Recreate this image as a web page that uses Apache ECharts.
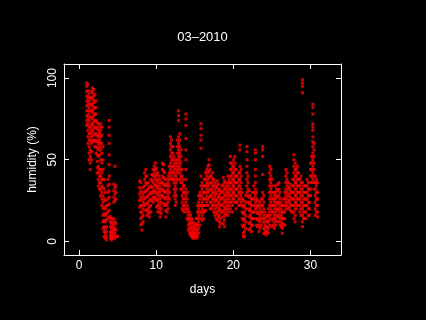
<!DOCTYPE html>
<html>
<head>
<meta charset="utf-8">
<title>03–2010</title>
<script src="https://cdn.jsdelivr.net/npm/echarts@6/dist/echarts.min.js"></script>
<style>
  html, body { margin: 0; padding: 0; background: #000; }
  #humidityChart { width: 426px; height: 320px; }
</style>
</head>
<body>
<div id="humidityChart"></div>
<script>
// day positions (x) of each column of readings
var dayColumns = [
  1.0, 1.15, 1.3, 1.45, 1.6, 1.75, 1.9, 2.05, 2.2, 2.35, 2.5, 2.65, 2.8, 2.95,
  3.1, 3.25, 3.4, 3.55, 3.75, 3.9, 4.05, 4.2, 4.35, 4.5, 4.65, 4.8, 5.0,
  7.85, 8.0, 8.15, 8.3, 8.5, 8.65, 8.8, 8.95, 9.1, 9.3, 9.45, 9.6, 9.75, 9.9,
  10.05, 10.2, 10.35, 10.5, 10.65, 10.8, 10.95, 11.1, 11.25, 11.4, 11.55, 11.7,
  11.85, 12.0, 12.15, 12.3, 12.45, 12.6, 12.75, 12.9, 13.05, 13.2, 13.35, 13.5,
  13.65, 13.85, 14.0, 14.15, 14.3, 14.45, 14.6, 14.75, 14.9, 15.05, 15.2, 15.35,
  15.5, 15.65, 15.8, 15.95, 16.1, 16.25, 16.4, 16.55, 16.7, 16.85, 17.0, 17.15,
  17.3, 17.45, 17.6, 17.75, 17.9, 18.05, 18.2, 18.35, 18.5, 18.7, 18.85, 19.0,
  19.15, 19.3, 19.45, 19.6, 19.75, 19.9, 20.05, 20.2, 20.35, 20.5, 20.7, 20.85,
  21.0, 21.15, 21.3, 21.45, 21.6, 21.75, 21.9, 22.05, 22.2, 22.35, 22.5, 22.65,
  22.85, 23.0, 23.15, 23.3, 23.45, 23.6, 23.8, 23.95, 24.1, 24.25, 24.4, 24.55,
  24.7, 24.85, 25.0, 25.15, 25.3, 25.45, 25.6, 25.75, 25.9, 26.05, 26.2, 26.35,
  26.5, 26.65, 26.8, 26.95, 27.1, 27.25, 27.4, 27.55, 27.7, 27.85, 28.0, 28.15,
  28.3, 28.45, 28.6, 28.75, 28.95, 29.1, 29.25, 29.4, 29.55, 29.7, 29.85, 30.0,
  30.15, 30.3, 30.45, 30.6, 30.75, 30.9
];

// humidity (%) readings in each column, same order as dayColumns
var humidityColumns = [
  [97, 95, 92, 89, 86, 83, 80, 77, 74, 71],
  [96, 92, 88, 84, 80, 76, 72, 68, 64, 60],
  [90, 86, 82, 78, 74, 70, 66, 62, 58, 54, 50],
  [88, 84, 80, 76, 70, 66, 62, 56, 52, 48, 44],
  [92, 88, 84, 80, 76, 72, 68, 64, 60, 55, 50],
  [94, 91, 87, 83, 79, 75, 71, 67, 62],
  [93, 89, 85, 81, 77, 73, 69, 65, 61],
  [90, 86, 82, 78, 74, 70, 66, 62, 58],
  [86, 82, 78, 74, 70, 66, 62, 58, 54],
  [73, 69, 65, 61, 57, 53, 49, 45, 42],
  [72, 68, 64, 60, 56, 52, 46, 42, 38, 34],
  [70, 66, 62, 58, 53, 44, 40, 36, 32],
  [72, 68, 64, 60, 56, 50, 44, 40, 36, 32, 28],
  [70, 65, 60, 54, 48, 42, 38, 34, 30, 26, 22],
  [58, 50, 44, 38, 33, 28, 24, 20, 16, 12, 8],
  [38, 32, 26, 21, 17, 13, 9, 6, 3],
  [30, 25, 20, 16, 12, 8, 5, 2],
  [22, 17, 13, 9, 6, 3, 1],
  [38, 34, 30, 26, 22, 18, 14],
  [74, 70, 65, 60, 53, 47, 40, 35, 31, 27, 23, 19, 15],
  [15, 12, 9, 6, 4, 2],
  [14, 11, 8, 5, 3, 1],
  [12, 9, 6, 3, 2],
  [35, 31, 27, 24, 14, 10, 7, 4],
  [46, 33, 29, 25, 12, 8, 5, 2],
  [34, 30, 26, 11, 7, 3],
  [3],
  [37, 33, 29, 25, 21],
  [36, 31, 27, 22, 18, 14, 10],
  [30, 26, 22, 18, 15, 11, 7],
  [33, 28, 24, 20, 16, 12],
  [42, 38, 34, 30, 26, 22],
  [44, 40, 36, 31, 27, 23, 19],
  [40, 35, 31, 27, 23, 19, 16],
  [36, 32, 28, 24, 20, 17],
  [33, 29, 25, 21, 18, 15],
  [38, 34, 30, 26, 22, 18],
  [41, 37, 33, 29, 25],
  [44, 40, 36, 31, 27, 24],
  [46, 42, 38, 34, 30, 26],
  [48, 44, 40, 35, 31, 27],
  [45, 41, 37, 33, 29, 25, 21],
  [42, 38, 34, 30, 26, 22, 18],
  [40, 36, 32, 28, 24, 20],
  [38, 34, 30, 26, 22, 18, 15],
  [36, 32, 28, 24, 20, 17],
  [48, 44, 40, 36, 32, 28],
  [47, 43, 39, 35, 31, 27, 23],
  [42, 38, 34, 30, 26, 22],
  [35, 31, 27, 23, 19, 15],
  [38, 34, 30, 26, 22, 18],
  [40, 36, 32, 28, 24, 20],
  [46, 42, 38, 34, 30, 26],
  [64, 60, 56, 52, 48, 44, 40],
  [62, 58, 54, 50, 46, 42, 38],
  [58, 54, 50, 46, 42, 38],
  [52, 48, 44, 40, 36, 32, 28],
  [50, 46, 42, 38, 34, 30, 26, 22],
  [48, 44, 40, 36, 32, 28, 24],
  [62, 58, 54, 50, 46, 42, 38],
  [80, 77, 74, 64, 60, 56, 52, 48, 44],
  [66, 62, 58, 54, 50, 46, 42, 38],
  [56, 52, 48, 44, 40, 36, 32],
  [44, 40, 36, 32, 28, 24, 20],
  [38, 34, 30, 26, 22, 19],
  [34, 30, 26, 22, 18],
  [78, 75, 71, 63, 56, 50, 44, 38, 32, 28, 24, 20],
  [30, 26, 22, 18, 14],
  [20, 16, 13, 10, 7],
  [18, 14, 11, 8, 5],
  [16, 12, 9, 6, 4],
  [14, 11, 8, 5, 3],
  [12, 9, 6, 4, 2],
  [10, 7, 5, 3, 2],
  [11, 8, 5, 3],
  [14, 10, 7, 4, 2],
  [22, 18, 14, 10, 6, 3],
  [28, 24, 20, 16, 12, 8, 5],
  [30, 26, 22, 18, 14, 10],
  [72, 69, 65, 62, 57, 40, 34, 28, 22, 18],
  [36, 32, 28, 24, 20, 16, 13],
  [34, 30, 26, 22, 18, 14],
  [38, 34, 30, 26, 22, 18],
  [42, 38, 34, 30, 26, 22, 19],
  [44, 40, 36, 32, 28, 24],
  [46, 42, 38, 34, 30, 26, 22],
  [50, 47, 43, 39, 35, 31, 27],
  [44, 40, 36, 32, 28, 24, 20],
  [40, 36, 32, 28, 24, 20],
  [42, 38, 34, 30, 26, 22],
  [38, 34, 30, 26, 22, 18],
  [36, 32, 28, 24, 20, 16],
  [34, 30, 26, 22, 18, 14],
  [37, 33, 29, 25, 21, 17, 13],
  [35, 31, 27, 23, 19, 15],
  [32, 28, 24, 20, 16, 12, 9],
  [30, 26, 22, 18, 14, 11],
  [34, 30, 26, 22, 18],
  [39, 35, 31, 27, 23, 19, 15, 11],
  [37, 33, 29, 25, 21, 17, 13, 9],
  [36, 32, 28, 24, 20, 16],
  [34, 30, 26, 22, 18],
  [40, 36, 32, 28, 24, 20, 16],
  [38, 34, 30, 26, 22, 18],
  [52, 48, 44, 40, 36, 32, 28, 24, 20],
  [48, 44, 40, 36, 32, 28, 24],
  [46, 42, 38, 34, 30, 26, 22, 18],
  [50, 46, 42, 38, 34, 30, 26],
  [52, 48, 44, 40, 36, 32, 28, 24],
  [44, 40, 36, 32, 28, 24, 20],
  [40, 36, 32, 28, 24],
  [42, 38, 34, 30, 26, 22],
  [59, 56, 46, 42, 38, 34, 30, 26, 22],
  [44, 40, 36, 32, 28, 24],
  [30, 26, 22, 18, 14, 10],
  [25, 21, 17, 13, 9, 5, 3],
  [22, 18, 14, 10, 6, 3],
  [28, 24, 20, 16, 12, 8],
  [58, 55, 50, 46, 42, 38, 34, 30],
  [40, 36, 32, 28, 24, 20],
  [31, 27, 23, 19, 15, 11, 7],
  [28, 24, 20, 16, 12, 8],
  [26, 22, 18, 14, 10, 6],
  [30, 26, 22, 18, 14, 10],
  [34, 30, 26, 22, 18, 14],
  [56, 54, 50, 44, 40, 36, 32, 28, 24, 20],
  [30, 26, 22, 18, 14, 10],
  [25, 21, 17, 13, 9],
  [22, 18, 14, 10, 6],
  [24, 20, 16, 12, 8],
  [26, 22, 18, 14, 10],
  [58, 56, 52, 41, 30, 26, 22, 18, 14],
  [28, 24, 20, 16, 12, 8, 5],
  [18, 14, 10, 7, 5],
  [15, 12, 9, 6, 4],
  [16, 12, 9, 6],
  [20, 16, 12, 8, 5],
  [46, 42, 38, 34, 30, 26, 22, 18, 14, 10],
  [44, 40, 36, 32, 28, 24, 20, 16],
  [38, 34, 30, 26, 22, 18, 13, 9],
  [30, 26, 22, 18, 14, 10],
  [28, 24, 20, 16, 12, 8],
  [34, 30, 26, 22, 18, 14, 10],
  [32, 28, 24, 20, 16, 12],
  [35, 31, 27, 23, 19, 15],
  [36, 32, 28, 24, 20, 16, 12],
  [30, 26, 22, 18, 14, 10],
  [24, 20, 16, 12, 9],
  [22, 18, 14, 11, 8, 5],
  [26, 22, 18, 14, 10],
  [30, 26, 22, 18, 14, 10],
  [44, 40, 36, 32, 28, 24, 20],
  [42, 38, 34, 30, 26, 22],
  [36, 32, 28, 24, 20],
  [33, 29, 25, 21],
  [35, 31, 27, 23, 19],
  [30, 26, 22, 18],
  [38, 34, 30, 26, 22, 18],
  [53, 50, 46, 42, 38, 34, 30, 26, 22, 18, 14],
  [48, 44, 40, 36, 32, 28, 24, 20, 16, 12],
  [44, 40, 36, 32, 28, 24, 20],
  [46, 42, 38, 34, 30, 26, 22],
  [42, 38, 34, 30, 26, 22],
  [38, 34, 30, 26, 22, 18],
  [40, 36, 32, 28, 24, 20, 16],
  [99, 97, 95, 91, 36, 32, 28, 24, 20, 16, 12, 9],
  [34, 30, 26, 22, 18, 14],
  [30, 26, 22, 18, 14],
  [34, 30, 26, 22, 18, 14],
  [38, 34, 30, 26, 22],
  [36, 32, 28, 24, 20, 16],
  [32, 28, 24, 20, 16],
  [48, 44, 40, 36, 32, 28],
  [52, 48, 44, 40, 36],
  [84, 82, 78, 72, 70, 68, 64, 61, 58, 54, 50, 46, 42, 38],
  [60, 56, 52, 48, 44, 40, 36, 32],
  [40, 36, 32, 28, 24, 20, 16],
  [38, 34, 30, 26, 22, 18],
  [36, 30, 26, 22, 18, 15]
];

var xTicks = [0, 10, 20, 30];
var yTicks = [0, 50, 100];
var chartTitle = '03–2010';

var font = 'Liberation Sans';
var points = [];
dayColumns.forEach(function (d, i) {
  humidityColumns[i].forEach(function (h) {
    points.push([d, h]);
  });
});

var myChart = echarts.init(document.getElementById('humidityChart'));
var white = '#ffffff';

function boxAxis(extra) {
  // one side of the R style box: white line, short ticks pointing in
  var base = {
    type: 'value',
    axisLine: { show: true, onZero: false, lineStyle: { color: white, width: 1 } },
    splitLine: { show: false },
    axisTick: { show: true, inside: true, length: 5, lineStyle: { color: white } },
    axisLabel: { show: false }
  };
  return Object.assign(base, extra);
}

var option = {
  backgroundColor: '#000000',
  animation: false,
  textStyle: { fontFamily: font, color: white },
  graphic: [{
    type: 'text',
    x: 202.5,
    y: 37,
    style: {
      text: chartTitle,
      fill: white,
      font: '13px "Liberation Sans"',
      textAlign: 'center',
      textVerticalAlign: 'middle'
    }
  }],
  grid: {
    left: 64,
    top: 64,
    width: 277,
    height: 191,
    show: false
  },
  xAxis: [
    boxAxis({
      position: 'bottom',
      min: -1.95,
      max: 33.95,
      name: 'days',
      nameLocation: 'middle',
      nameGap: 29,
      nameTextStyle: { color: white, fontSize: 12, fontFamily: font },
      axisTick: { show: true, inside: true, length: 5, customValues: xTicks, lineStyle: { color: white } },
      axisLabel: { show: true, customValues: xTicks, color: white, fontSize: 12, fontFamily: font, margin: 5 }
    }),
    boxAxis({
      position: 'top',
      min: -1.95,
      max: 33.95,
      axisTick: { show: true, inside: true, length: 5, customValues: xTicks, lineStyle: { color: white } }
    })
  ],
  yAxis: [
    boxAxis({
      position: 'left',
      min: -8.3,
      max: 108.6,
      name: 'humidity (%)',
      nameLocation: 'middle',
      nameGap: 21,
      nameTextStyle: { color: white, fontSize: 12, fontFamily: font },
      axisTick: { show: true, inside: true, length: 5, customValues: yTicks, lineStyle: { color: white } },
      axisLabel: { show: true, customValues: yTicks, rotate: 90, color: white, fontSize: 12, fontFamily: font, margin: 5 }
    }),
    boxAxis({
      position: 'right',
      min: -8.3,
      max: 108.6,
      axisTick: { show: true, inside: true, length: 5, customValues: yTicks, lineStyle: { color: white } }
    })
  ],
  series: [{
    type: 'scatter',
    data: points,
    symbol: 'rect',
    symbolSize: 3,
    itemStyle: { color: '#ff0000' },
    silent: true
  }]
};

myChart.setOption(option);
</script>
</body>
</html>
